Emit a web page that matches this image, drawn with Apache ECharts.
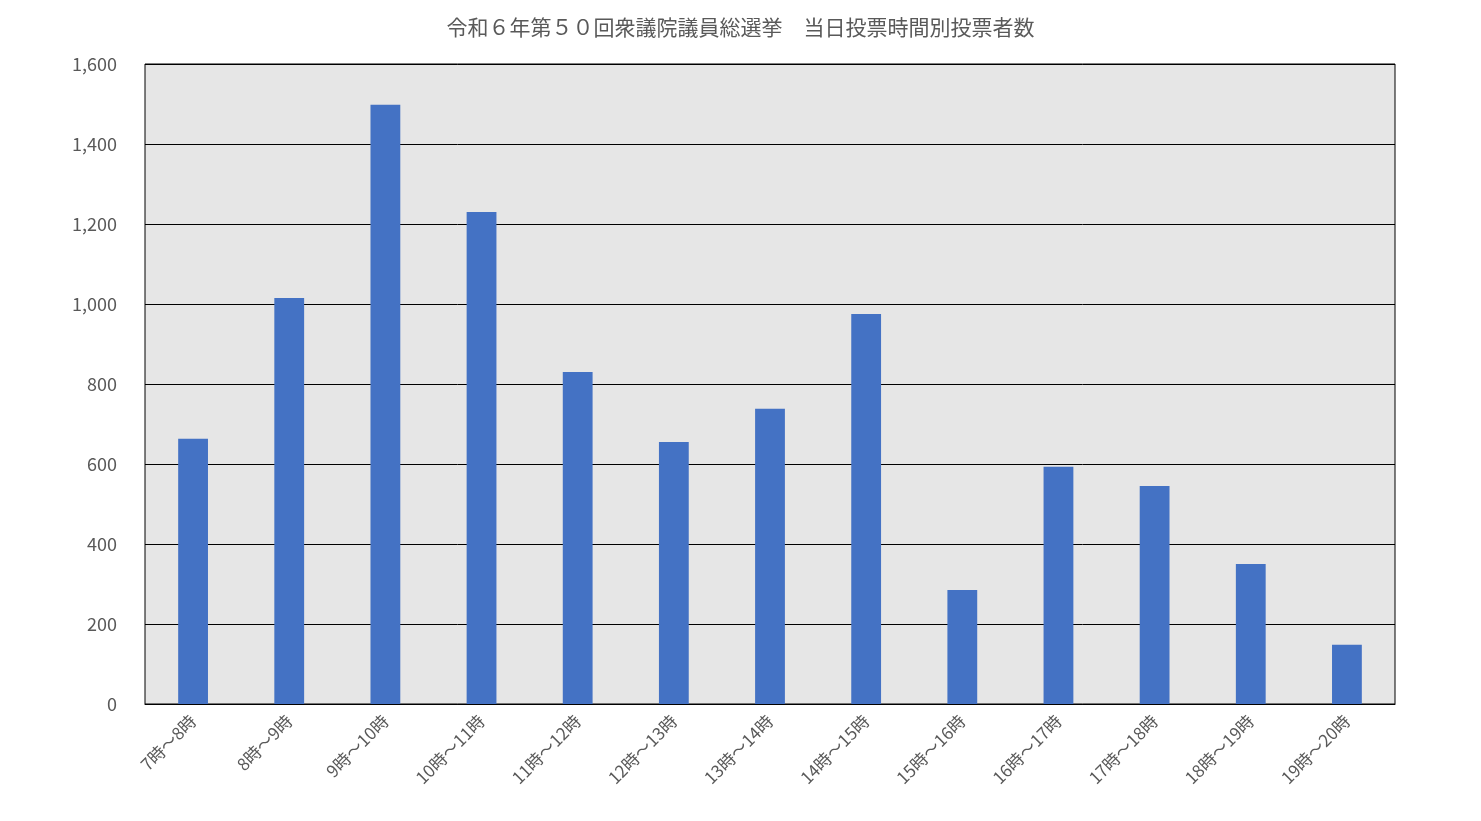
<!DOCTYPE html>
<html>
<head>
<meta charset="utf-8">
<script src="https://cdn.jsdelivr.net/npm/echarts@6/dist/echarts.min.js"></script>
<style>
html, body { margin: 0; padding: 0; background: #fff; }
#chart { width: 1481px; height: 821px; }
</style>
</head>
<body>
<div id="chart"></div>
<script>
// 時間帯
const categories = ['7時～8時', '8時～9時', '9時～10時', '10時～11時', '11時～12時', '12時～13時',
  '13時～14時', '14時～15時', '15時～16時', '16時～17時', '17時～18時', '18時～19時', '19時～20時']
// 投票者数
const voters = [663, 1015, 1498, 1230, 830, 655, 738, 975, 285, 593, 545, 350, 148]

const font = '"Noto Sans CJK JP", "Noto Sans", sans-serif'
const myChart = echarts.init(document.getElementById('chart'))

myChart.setOption({
  title: {
    text: '令和６年第５０回衆議院議員総選挙　当日投票時間別投票者数',
    left: 'center',
    top: 12,
    textStyle: { fontFamily: font, fontSize: 21, fontWeight: 'normal', color: '#595959' }
  },
  grid: {
    left: 145, right: 86, top: 64, bottom: 117,
    show: true, backgroundColor: '#e6e6e6', borderColor: '#000', borderWidth: 1
  },
  xAxis: {
    type: 'category',
    data: categories,
    axisLine: { lineStyle: { color: '#000' } },
    axisTick: { show: false },
    axisLabel: { rotate: 45, interval: 0, fontFamily: font, fontSize: 17, color: '#595959', margin: 14 }
  },
  yAxis: {
    type: 'value',
    min: 0, max: 1600, interval: 200,
    axisLine: { show: false },
    axisTick: { show: false },
    splitLine: { lineStyle: { color: '#000', width: 1 } },
    axisLabel: {
      fontFamily: font, fontSize: 18, color: '#595959', margin: 28,
      formatter: v => v.toLocaleString('en-US')
    }
  },
  series: [{
    type: 'bar',
    data: voters,
    barWidth: '31%',
    itemStyle: { color: '#4472c4' }
  }]
})
</script>
</body>
</html>
